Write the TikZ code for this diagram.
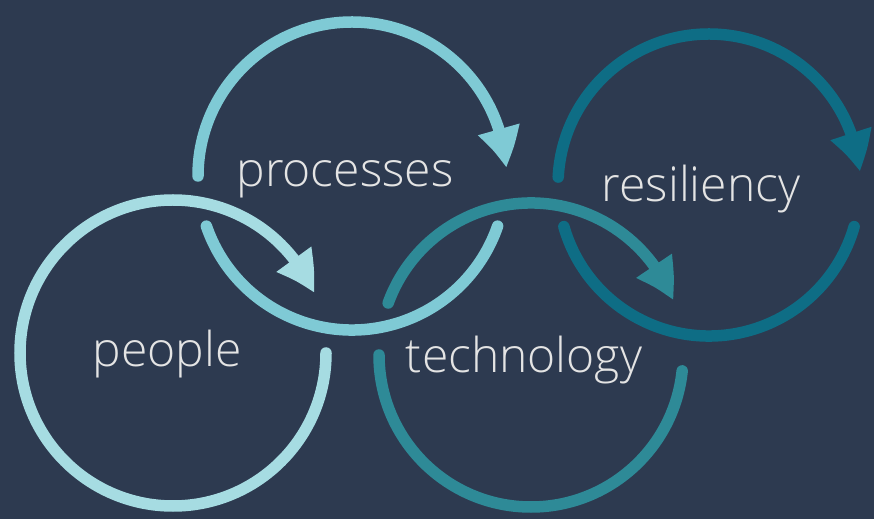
\documentclass[tikz,border=0pt]{standalone}
\usepackage{fontspec}
\IfFontExistsTF{Open Sans Light}{\setmainfont{Open Sans Light}}{\setmainfont{Open Sans}}
\usetikzlibrary{arrows.meta,bending}
\definecolor{bg}{HTML}{2D3A50}
\definecolor{cPeople}{HTML}{A6DCE2}
\definecolor{cProc}{HTML}{7FCAD5}
\definecolor{cTech}{HTML}{2E8A97}
\definecolor{cRes}{HTML}{0E6D85}
\definecolor{txt}{HTML}{E4E4E4}
\begin{document}
\begin{tikzpicture}[x=1pt,y=1pt,
  ring/.style={line width=11.5pt,line cap=round},
  tipped/.style={-{Triangle[width=40pt,length=40pt,bend]}},
  lbl/.style={text=txt,font=\fontsize{48}{48}\selectfont,anchor=base,inner sep=0pt}]
\fill[bg] (0,0) rectangle (874,519);
\useasboundingbox (0,0) rectangle (874,519);
\coordinate (Pe) at (173,166);
\coordinate (Pr) at (352,343);
\coordinate (Te) at (531,164);
\coordinate (Re) at (709,334);
% resiliency
\draw[ring,tipped,cRes] (Re) ++(177:151) arc[start angle=177,end angle=5,radius=151];
\draw[ring,cRes] (Re) ++(196:151) arc[start angle=196,end angle=344,radius=151];
% technology
\draw[ring,cTech] (Te) ++(180:152) arc[start angle=180,end angle=354,radius=152];
\draw[ring,tipped,cTech] (Te) ++(160:152) arc[start angle=160,end angle=21,radius=152];
% processes
\draw[ring,tipped,cProc] (Pr) ++(180:154) arc[start angle=180,end angle=3,radius=154];
\draw[ring,cProc] (Pr) ++(199:154) arc[start angle=199,end angle=341,radius=154];
% people
\draw[ring,tipped,cPeople] (Pe) ++(0:153) arc[start angle=0,end angle=-337,radius=153];
% labels
\node[lbl] (lproc) at (345,332) {processes};
\node[lbl] (lpeople) at (167,152) {people};
\node[lbl] (ltech) at (524,146) {technology};
\node[lbl] (lres) at (701,317) {resiliency};
\end{tikzpicture}
\end{document}
